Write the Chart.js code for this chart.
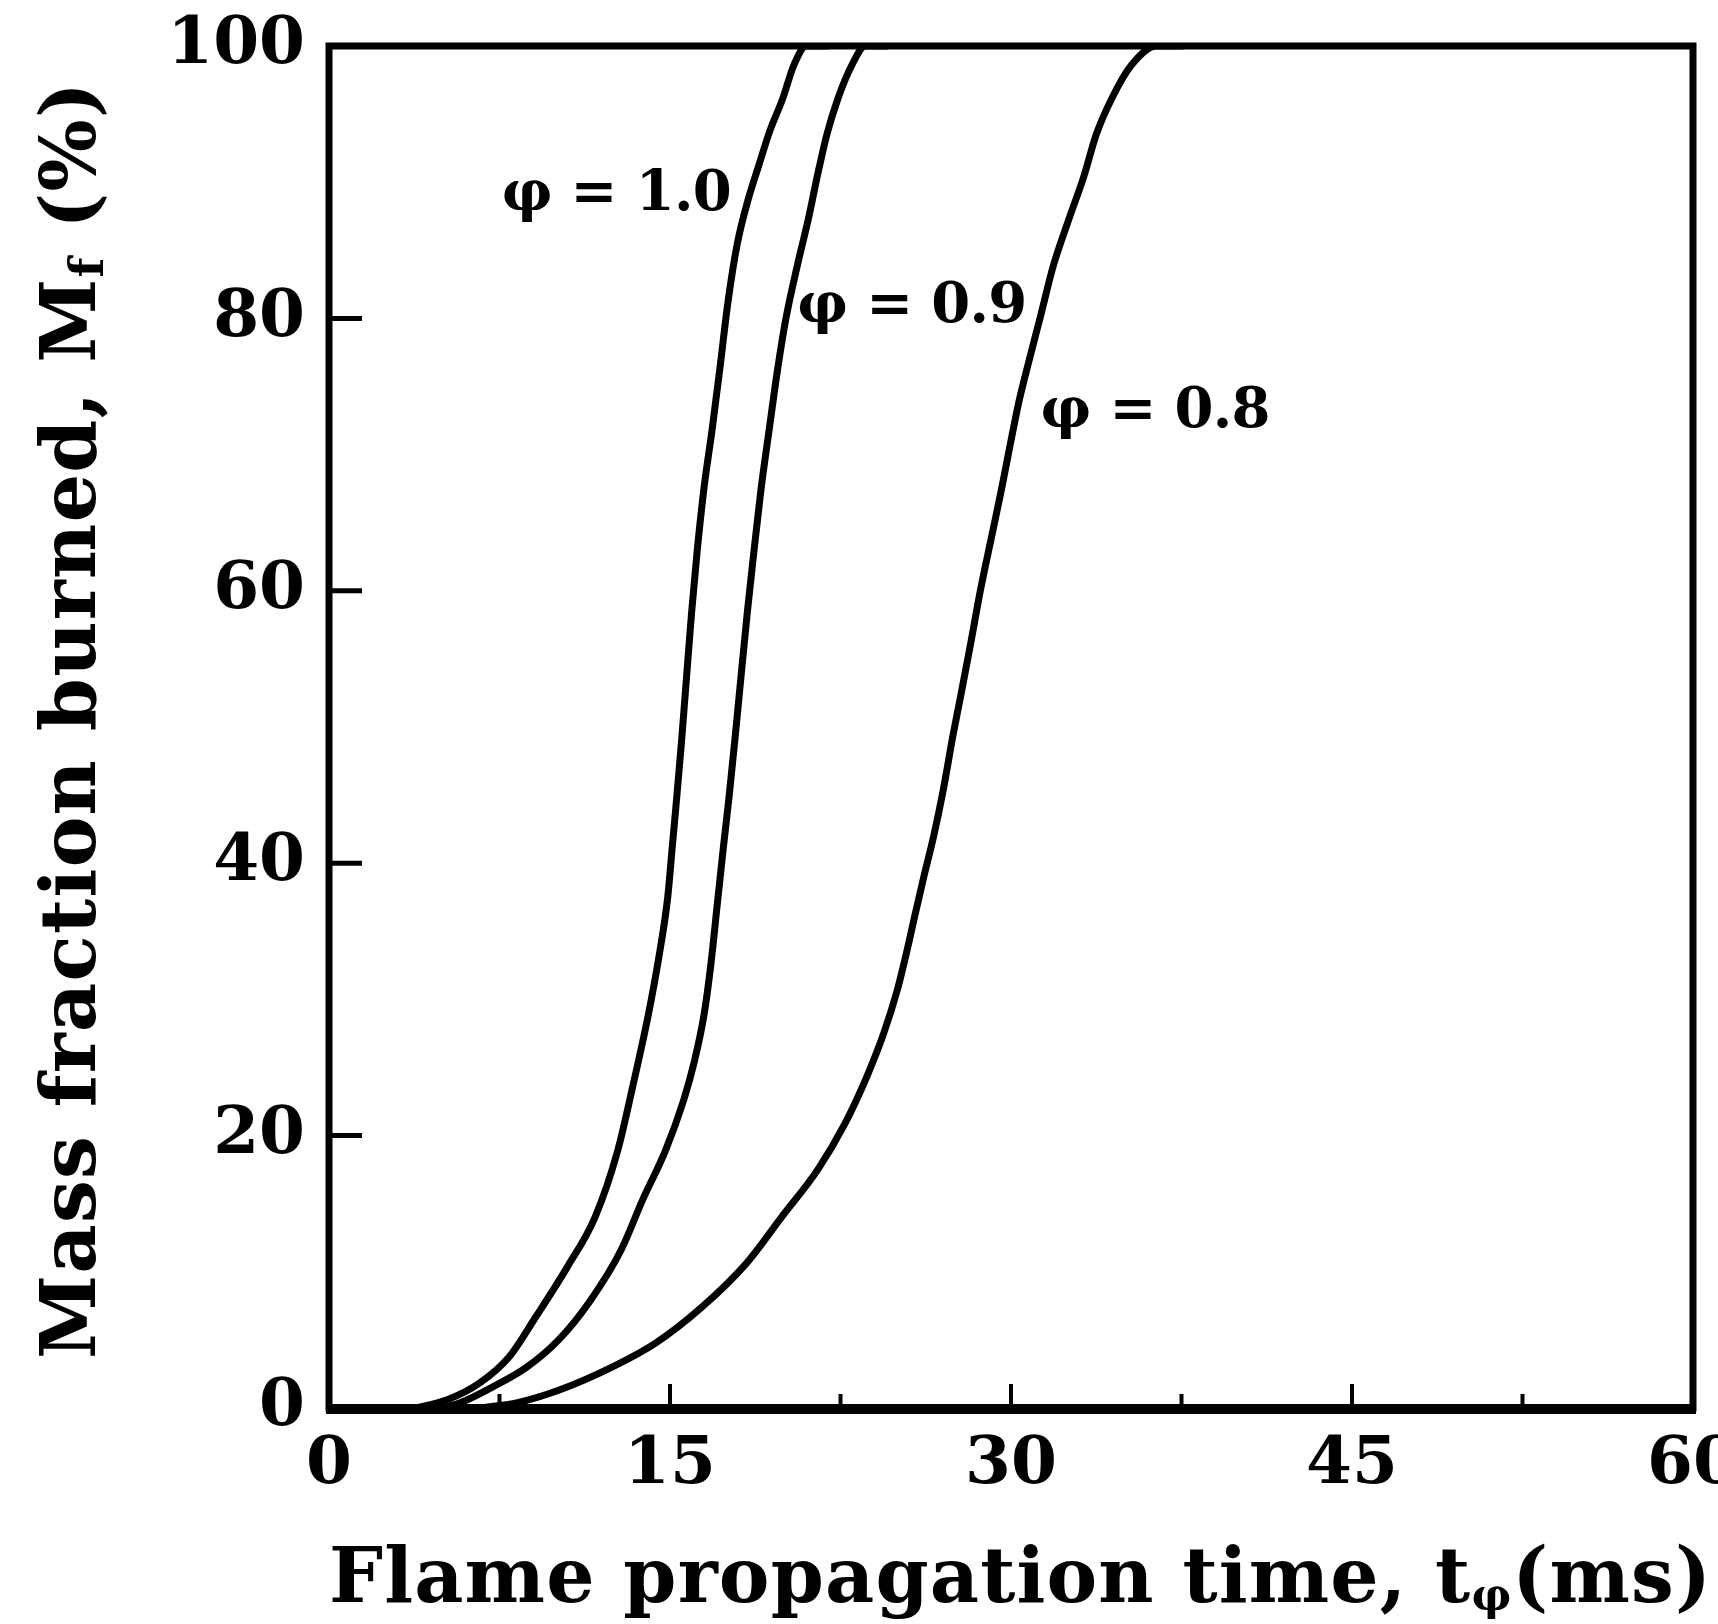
<!DOCTYPE html>
<html>
<head>
<meta charset="utf-8">
<script src="https://cdn.jsdelivr.net/npm/chart.js@4.4.1/dist/chart.umd.min.js"></script>
<style>
  html, body { margin: 0; padding: 0; background: #fff; }
</style>
</head>
<body>
<canvas id="chart" width="1718" height="1624"></canvas>
<script>
// values: flame propagation time (ms) -> mass fraction burned (%)
const time10 = [3.8, 5.2, 6.6, 7.9, 9.1, 10.5, 11.7, 12.7, 13.4, 14.05, 14.5, 14.9, 15.1, 15.3, 15.5, 15.72, 15.95, 16.2, 16.5, 16.85, 17.2, 17.55, 17.95, 18.45, 18.9, 19.4, 19.95, 20.45, 21.0, 22.0];
const mass10 = [0, 0.6, 1.8, 3.7, 6.7, 10.4, 14.0, 18.9, 23.9, 28.9, 33.0, 37.5, 41.2, 44.9, 48.8, 53.5, 58.4, 63.0, 67.6, 71.8, 76.4, 81.2, 85.4, 88.8, 91.2, 93.8, 96.1, 98.6, 100, 100];

const time09 = [5.0, 5.8, 7.15, 8.7, 10.1, 11.5, 12.85, 13.8, 14.8, 15.6, 16.05, 16.5, 16.8, 17.1, 17.35, 17.6, 17.85, 18.1, 18.4, 18.7, 19.0, 19.36, 19.71, 20.1, 20.59, 21.1, 21.5, 21.9, 22.4, 23.0, 23.6, 24.6];
const mass09 = [0, 0.4, 1.5, 3.0, 5.0, 7.9, 11.6, 15.3, 18.9, 22.6, 25.3, 28.9, 32.6, 37.3, 41.2, 44.9, 49.0, 53.3, 58.4, 63.0, 67.4, 71.8, 76.0, 80.0, 83.8, 87.4, 90.6, 93.5, 96.2, 98.6, 100, 100];

const time08 = [6.6, 8.3, 10.1, 12.45, 14.4, 16.4, 18.35, 19.9, 21.5, 22.7, 23.65, 24.4, 25.0, 25.4, 25.75, 26.15, 26.6, 27.0, 27.45, 27.8, 28.2, 28.65, 29.15, 29.6, 29.95, 30.35, 30.84, 31.32, 31.85, 32.55, 33.2, 33.75, 34.45, 35.3, 36.4, 37.6];
const mass08 = [0, 0.4, 1.3, 3.0, 4.8, 7.4, 10.6, 14.0, 17.5, 20.9, 24.3, 27.5, 30.7, 33.4, 36.0, 38.9, 42.0, 45.2, 49.4, 52.4, 55.9, 60.0, 64.0, 67.6, 70.6, 73.9, 77.2, 80.3, 83.8, 87.3, 90.4, 93.5, 96.2, 98.6, 100, 100];

const seriesLabels = ['φ = 1.0', 'φ = 0.9', 'φ = 0.8'];
const xMajorTicks = [15, 30, 45];
const xMinorTicks = [7.5, 22.5, 37.5, 52.5];
const yInnerTicks = [20, 40, 60, 80];

const FONT = '"DejaVu Serif", serif';

function toPoints(xs, ys) {
  return xs.map((x, i) => ({ x: x, y: ys[i] }));
}

// width of a run of text pieces, char by char
function runWidth(ctx, parts) {
  let w = 0, n = 0;
  parts.forEach(p => {
    ctx.font = 'bold ' + p.size + 'px ' + FONT;
    for (const ch of p.text) { w += ctx.measureText(ch).width; n++; }
  });
  return { w: w, n: n };
}

// draw pieces spread so the whole run is `target` px long
function drawRun(ctx, parts, x, y, target) {
  const m = runWidth(ctx, parts);
  const sp = (target - m.w) / (m.n - 1);
  let cx = x;
  parts.forEach(p => {
    ctx.font = 'bold ' + p.size + 'px ' + FONT;
    for (const ch of p.text) {
      ctx.fillText(ch, cx, y + p.dy);
      cx += ctx.measureText(ch).width + sp;
    }
  });
}

const framePlugin = {
  id: 'frame',
  afterDatasetsDraw(chart) {
    const ctx = chart.ctx;
    const a = chart.chartArea;
    const xs = chart.scales.x, ys = chart.scales.y;
    ctx.save();
    ctx.strokeStyle = '#000';
    ctx.fillStyle = '#000';

    // inward ticks
    ctx.lineWidth = 5;
    yInnerTicks.forEach(v => {
      const py = ys.getPixelForValue(v);
      ctx.beginPath(); ctx.moveTo(a.left, py); ctx.lineTo(a.left + 33, py); ctx.stroke();
    });
    ctx.lineWidth = 4;
    xMajorTicks.forEach(v => {
      const px = xs.getPixelForValue(v);
      ctx.beginPath(); ctx.moveTo(px, a.bottom); ctx.lineTo(px, a.bottom - 24); ctx.stroke();
    });
    xMinorTicks.forEach(v => {
      const px = xs.getPixelForValue(v);
      ctx.beginPath(); ctx.moveTo(px, a.bottom); ctx.lineTo(px, a.bottom - 14); ctx.stroke();
    });

    // box
    ctx.lineWidth = 7;
    ctx.strokeRect(a.left, a.top, a.right - a.left, a.bottom - a.top);
    ctx.lineWidth = 10;
    ctx.beginPath(); ctx.moveTo(a.left - 3, a.bottom + 1); ctx.lineTo(a.right + 3, a.bottom + 1); ctx.stroke();

    // curve labels
    ctx.textAlign = 'left';
    ctx.textBaseline = 'middle';
    const labelPos = [[7.6, 89.0], [20.6, 80.8], [31.3, 73.1]];
    seriesLabels.forEach((t, i) => {
      const px = xs.getPixelForValue(labelPos[i][0]);
      const py = ys.getPixelForValue(labelPos[i][1]);
      drawRun(ctx, [{ text: t, size: 56, dy: 0 }], px, py, 230);
    });

    // axis titles
    ctx.textBaseline = 'alphabetic';
    drawRun(ctx, [
      { text: 'Flame propagation time, t', size: 76, dy: 0 },
      { text: 'φ', size: 44, dy: 8 },
      { text: '(ms)', size: 76, dy: 0 }
    ], a.left, 1602, 1382);

    ctx.translate(95, 1359);
    ctx.rotate(-Math.PI / 2);
    drawRun(ctx, [
      { text: 'Mass fraction burned, M', size: 76, dy: 0 },
      { text: 'f', size: 46, dy: 8 },
      { text: ' (%)', size: 76, dy: 0 }
    ], 0, 0, 1277);
    ctx.restore();
  }
};

const tickFont = { family: FONT, size: 66, weight: 'bold' };

new Chart(document.getElementById('chart').getContext('2d'), {
  type: 'line',
  data: {
    datasets: [
      { label: seriesLabels[0], data: toPoints(time10, mass10) },
      { label: seriesLabels[1], data: toPoints(time09, mass09) },
      { label: seriesLabels[2], data: toPoints(time08, mass08) }
    ]
  },
  options: {
    responsive: false,
    animation: false,
    devicePixelRatio: 1,
    layout: { padding: { top: 46, right: 25, left: 0, bottom: 0 } },
    plugins: {
      legend: { display: false },
      tooltip: { enabled: false }
    },
    elements: {
      point: { radius: 0 },
      line: { borderWidth: 7, borderColor: '#000', cubicInterpolationMode: 'monotone' }
    },
    scales: {
      x: {
        type: 'linear',
        min: 0,
        max: 60,
        ticks: { stepSize: 15, padding: 18, color: '#000', font: tickFont, maxRotation: 0 },
        grid: { display: false, drawTicks: false },
        border: { display: false },
        afterFit: function(scale) {
          scale.height = 216;
          scale.paddingLeft = 0;
          scale.paddingRight = 0;
        }
      },
      y: {
        min: 0,
        max: 100,
        ticks: { stepSize: 20, padding: 24, color: '#000', font: tickFont },
        grid: { display: false, drawTicks: false },
        border: { display: false },
        afterFit: function(scale) {
          scale.width = 329;
          scale.paddingTop = 0;
          scale.paddingBottom = 0;
        }
      }
    }
  },
  plugins: [framePlugin]
});
</script>
</body>
</html>
